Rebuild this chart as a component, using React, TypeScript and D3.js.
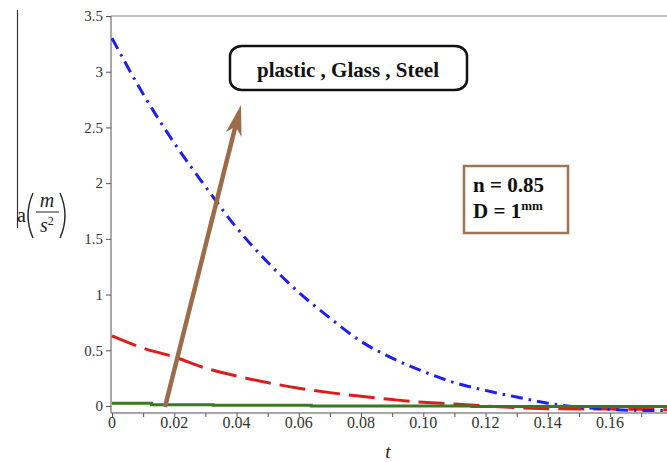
import React, { useEffect, useRef } from 'react';
import * as d3 from 'd3';

// time samples (s)
const tValues = [0, 0.01, 0.02, 0.03, 0.04, 0.05, 0.06, 0.07, 0.08, 0.09, 0.1, 0.11, 0.12, 0.13, 0.14, 0.15, 0.16, 0.17, 0.18];
// plastic (blue dash-dot)
const plasticA = [3.3, 2.8, 2.36, 1.97, 1.6, 1.29, 1.02, 0.79, 0.58, 0.43, 0.31, 0.21, 0.14, 0.08, 0.025, -0.01, -0.03, -0.04, -0.04];
// glass (red dashed)
const glassA = [0.63, 0.52, 0.44, 0.34, 0.27, 0.21, 0.16, 0.12, 0.087, 0.058, 0.033, 0.018, 0.0, -0.015, -0.024, -0.027, -0.028, -0.03, -0.035];
// steel (green, stepped)
const steelT = [0, 0.0127, 0.0325, 0.064, 0.1156, 0.18];
const steelA = [0.025, 0.012, 0.006, 0.0, -0.004, -0.004];

const xTicks = [0, 0.01, 0.02, 0.03, 0.04, 0.05, 0.06, 0.07, 0.08, 0.09, 0.1, 0.11, 0.12, 0.13, 0.14, 0.15, 0.16, 0.17];
const xLabels = ['0', '0.02', '0.04', '0.06', '0.08', '0.10', '0.12', '0.14', '0.16'];
const yTicks = [0, 0.5, 1, 1.5, 2, 2.5, 3, 3.5];

const serif = 'Liberation Serif, Times New Roman, serif';

function App() {
  const ref = useRef<SVGSVGElement>(null);

  useEffect(() => {
    const svg = d3.select(ref.current);
    svg.selectAll('*').remove();

    const x = d3.scaleLinear().domain([0, 0.1786]).range([112, 668]);
    const y = d3.scaleLinear().domain([-0.0628, 3.5]).range([413, 16]);
    const axisColor = '#8a8a8a';

    // frame
    svg.append('line').attr('x1', 111).attr('x2', 667).attr('y1', 16).attr('y2', 16)
      .attr('stroke', axisColor).attr('stroke-width', 1.2);

    const xAxis = d3.axisBottom(x).tickValues(xTicks).tickSize(4).tickFormat(() => '');
    const gx = svg.append('g').attr('transform', 'translate(0,413)').call(xAxis);
    gx.select('.domain').attr('stroke', axisColor).attr('stroke-width', 1.5).attr('d', 'M111,0H667');
    gx.selectAll('.tick line').attr('stroke', '#555');

    xLabels.forEach((lab) => {
      svg.append('text')
        .attr('x', x(+lab)).attr('y', 428)
        .attr('text-anchor', 'middle')
        .attr('font-family', serif).attr('font-size', 16).attr('fill', '#333')
        .text(lab);
    });

    const yAxis = d3.axisLeft(y).tickValues(yTicks).tickSize(5).tickPadding(3).tickFormat((d) => String(d));
    const gy = svg.append('g').attr('transform', 'translate(111,0)').call(yAxis)
      .attr('font-family', serif).attr('font-size', 15);
    gy.select('.domain').attr('stroke', axisColor).attr('stroke-width', 1.5).attr('d', 'M0,16V413');
    gy.selectAll('.tick line').attr('stroke', '#555');
    gy.selectAll('.tick text').attr('fill', '#333');

    const line = d3.line<number>()
      .x((_, i) => x(tValues[i]))
      .curve(d3.curveMonotoneX);

    const clip = svg.append('defs').append('clipPath').attr('id', 'plotclip');
    clip.append('rect').attr('x', 111).attr('y', 16).attr('width', 556).attr('height', 397);
    const plot = svg.append('g').attr('clip-path', 'url(#plotclip)');

    plot.append('path')
      .attr('d', line.y((d) => y(d))(glassA))
      .attr('fill', 'none').attr('stroke', '#dd1c1c').attr('stroke-width', 3)
      .attr('stroke-dasharray', '26,9');

    plot.append('path')
      .attr('d', line.y((d) => y(d))(plasticA))
      .attr('fill', 'none').attr('stroke', '#1f1ff0').attr('stroke-width', 3)
      .attr('stroke-dasharray', '12,6,2.5,6');

    const stepLine = d3.line<number>()
      .x((_, i) => x(steelT[i]))
      .y((d) => y(d))
      .curve(d3.curveStepAfter);
    plot.append('path')
      .attr('d', stepLine(steelA))
      .attr('fill', 'none').attr('stroke', '#3a7a1c').attr('stroke-width', 3);

    // brown arrow
    const brown = '#9c6c4a';
    svg.append('line').attr('x1', 165).attr('y1', 407).attr('x2', 236).attr('y2', 124)
      .attr('stroke', brown).attr('stroke-width', 4.5);
    svg.append('polygon')
      .attr('points', '241,105 225.9,132.1 235.6,126.4 241.5,137')
      .attr('fill', brown);

    // label box
    svg.append('rect').attr('x', 230).attr('y', 46).attr('width', 237).attr('height', 44)
      .attr('rx', 12).attr('ry', 10)
      .attr('fill', 'white').attr('stroke', '#111').attr('stroke-width', 2.5);
    svg.append('text').attr('x', 348).attr('y', 77).attr('text-anchor', 'middle')
      .attr('font-family', serif).attr('font-size', 21).attr('font-weight', 'bold')
      .attr('fill', '#111').text('plastic , Glass , Steel');

    // parameter box
    svg.append('rect').attr('x', 464).attr('y', 166).attr('width', 104).attr('height', 67)
      .attr('fill', 'white').attr('stroke', '#9c7458').attr('stroke-width', 2.5);
    svg.append('text').attr('x', 473).attr('y', 192)
      .attr('font-family', serif).attr('font-size', 21).attr('font-weight', 'bold')
      .attr('fill', '#111').text('n = 0.85');
    const dText = svg.append('text').attr('x', 473).attr('y', 218)
      .attr('font-family', serif).attr('font-size', 21).attr('font-weight', 'bold')
      .attr('fill', '#111');
    dText.append('tspan').text('D = 1');
    dText.append('tspan').attr('dy', -8).attr('font-size', 13).text('mm');

    // y label: a(m/s^2)
    svg.append('line').attr('x1', 17.5).attr('x2', 17.5).attr('y1', 10).attr('y2', 228)
      .attr('stroke', '#333').attr('stroke-width', 1.2);
    const lab = svg.append('g').attr('font-family', serif).attr('fill', '#222');
    lab.append('text').attr('x', 17).attr('y', 222).attr('font-size', 20).text('a');
    lab.append('path').attr('d', 'M33,193 Q23,215.5 33,238')
      .attr('fill', 'none').attr('stroke', '#222').attr('stroke-width', 1.4);
    lab.append('path').attr('d', 'M60,193 Q70,215.5 60,238')
      .attr('fill', 'none').attr('stroke', '#222').attr('stroke-width', 1.4);
    lab.append('text').attr('x', 47).attr('y', 207).attr('text-anchor', 'middle')
      .attr('font-size', 20).attr('font-style', 'italic').text('m');
    lab.append('line').attr('x1', 36).attr('x2', 59).attr('y1', 212).attr('y2', 212)
      .attr('stroke', '#222').attr('stroke-width', 1);
    const s2 = lab.append('text').attr('x', 40).attr('y', 232).attr('font-size', 20).attr('font-style', 'italic');
    s2.append('tspan').text('s');
    s2.append('tspan').attr('dy', -7).attr('font-size', 12).attr('font-style', 'normal').text('2');

    // x label
    svg.append('text').attr('x', 388).attr('y', 458).attr('text-anchor', 'middle')
      .attr('font-family', serif).attr('font-size', 19).attr('font-style', 'italic')
      .attr('fill', '#222').text('t');
  }, []);

  return (
    <svg ref={ref} width={667} height={462}
      style={{ position: 'absolute', left: 0, top: 0, background: 'white' }} />
  );
}

export default App;
